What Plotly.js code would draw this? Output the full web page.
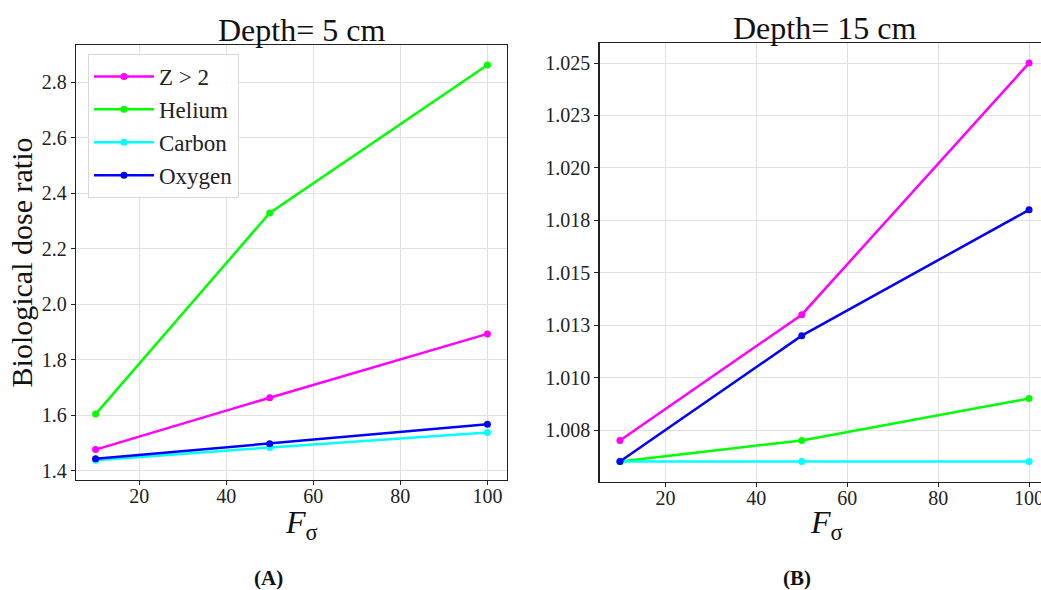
<!DOCTYPE html>
<html>
<head>
<meta charset="utf-8">
<script src="https://cdn.plot.ly/plotly-3.0.1.min.js"></script>
<style>
html, body { margin: 0; padding: 0; overflow: hidden; background: #fff; }
#chart { width: 1050px; height: 590px; }
</style>
</head>
<body>
<div id="chart"></div>
<script>
// ---- Data ----
const fSigma = [10, 50, 100];
const seriesNames = ["Z > 2", "Helium", "Carbon", "Oxygen"];
const seriesColors = ["#ff00ff", "#00ff00", "#00ffff", "#0000ff"];

// Panel A: Depth = 5 cm
const depth5_Z2 = [1.476, 1.663, 1.893];
const depth5_Helium = [1.604, 2.329, 2.862];
const depth5_Carbon = [1.438, 1.484, 1.538];
const depth5_Oxygen = [1.443, 1.497, 1.567];

// Panel B: Depth = 15 cm
const depth15_Z2 = [1.0070, 1.0130, 1.0250];
const depth15_Helium = [1.0060, 1.0070, 1.0090];
const depth15_Carbon = [1.0060, 1.0060, 1.0060];
const depth15_Oxygen = [1.0060, 1.0120, 1.0180];

const xTickVals = [20, 40, 60, 80, 100];
const yTickValsA = [1.4, 1.6, 1.8, 2.0, 2.2, 2.4, 2.6, 2.8];
const yTickTextA = ["1.4", "1.6", "1.8", "2.0", "2.2", "2.4", "2.6", "2.8"];
const yTickValsB = [1.0075, 1.0100, 1.0125, 1.0150, 1.0175, 1.0200, 1.0225, 1.0250];
const yTickTextB = ["1.008", "1.010", "1.013", "1.015", "1.018", "1.020", "1.023", "1.025"];

const panelTitles = ["Depth= 5 cm", "Depth= 15 cm"];
const panelLabels = ["<b>(A)</b>", "<b>(B)</b>"];
const xTitle = "<i>F</i><sub>σ</sub>";
const yTitle = "Biological dose ratio";

// ---- Build traces ----
const panelA = [depth5_Z2, depth5_Helium, depth5_Carbon, depth5_Oxygen];
const panelB = [depth15_Z2, depth15_Helium, depth15_Carbon, depth15_Oxygen];

const traces = [];
panelA.forEach((ys, i) => {
  traces.push({
    x: fSigma, y: ys, name: seriesNames[i], type: "scatter", mode: "lines+markers",
    line: {color: seriesColors[i], width: 2.5}, marker: {color: seriesColors[i], size: 7},
    xaxis: "x", yaxis: "y", showlegend: true
  });
});
panelB.forEach((ys, i) => {
  traces.push({
    x: fSigma, y: ys, name: seriesNames[i], type: "scatter", mode: "lines+markers",
    line: {color: seriesColors[i], width: 2.5}, marker: {color: seriesColors[i], size: 7},
    xaxis: "x2", yaxis: "y2", showlegend: false
  });
});

const W = 1050, H = 590;
const FONT = "Liberation Serif";
const axisCommon = {
  showline: true, mirror: true, linecolor: "#222", linewidth: 1.2,
  showgrid: true, gridcolor: "#e2e2e2", gridwidth: 1,
  ticks: "outside", ticklen: 4, tickcolor: "#222",
  zeroline: false, tickfont: {family: FONT, size: 20, color: "#222"}
};

const layout = {
  width: W, height: H,
  margin: {l: 0, r: 0, t: 0, b: 0},
  paper_bgcolor: "#fff", plot_bgcolor: "#fff",
  font: {family: FONT, color: "#111"},
  xaxis: Object.assign({}, axisCommon, {
    domain: [76 / W, 507 / W], range: [5.5, 104.5], tickvals: xTickVals, anchor: "y",
    ticklabelstandoff: -6
  }),
  yaxis: Object.assign({}, axisCommon, {
    domain: [1 - 480 / H, 1 - 45 / H], range: [1.3665, 2.934],
    tickvals: yTickValsA, ticktext: yTickTextA, anchor: "x",
    title: {text: yTitle, font: {family: FONT, size: 30}, standoff: 0}
  }),
  xaxis2: Object.assign({}, axisCommon, {
    domain: [599.5 / W, 1049.5 / W], range: [5.5, 104.5], tickvals: xTickVals, anchor: "y2",
    ticklabelstandoff: -6
  }),
  yaxis2: Object.assign({}, axisCommon, {
    domain: [1 - 481.7 / H, 1 - 42.7 / H], range: [1.005035, 1.02597],
    tickvals: yTickValsB, ticktext: yTickTextB, anchor: "x2"
  }),
  legend: {
    x: 88 / W, y: 1 - 54 / H, xanchor: "left", yanchor: "top",
    bgcolor: "rgba(255,255,255,0.9)", bordercolor: "#d8d8d8", borderwidth: 1,
    font: {family: FONT, size: 23, color: "#222"}, itemwidth: 60
  },
  annotations: [
    {text: panelTitles[0], xref: "paper", yref: "paper", x: 301 / W, y: 1 - 30 / H,
     xanchor: "center", yanchor: "middle", showarrow: false, font: {family: FONT, size: 32, color: "#111"}},
    {text: panelTitles[1], xref: "paper", yref: "paper", x: 824 / W, y: 1 - 28 / H,
     xanchor: "center", yanchor: "middle", showarrow: false, font: {family: FONT, size: 32, color: "#111"}},
    {text: xTitle, xref: "paper", yref: "paper", x: 301 / W, y: 1 - 524 / H,
     xanchor: "center", yanchor: "middle", showarrow: false, font: {family: FONT, size: 32, color: "#111"}},
    {text: xTitle, xref: "paper", yref: "paper", x: 826 / W, y: 1 - 524 / H,
     xanchor: "center", yanchor: "middle", showarrow: false, font: {family: FONT, size: 32, color: "#111"}},
    {text: panelLabels[0], xref: "paper", yref: "paper", x: 268 / W, y: 1 - 578 / H,
     xanchor: "center", yanchor: "middle", showarrow: false, font: {family: FONT, size: 21, color: "#111"}},
    {text: panelLabels[1], xref: "paper", yref: "paper", x: 797 / W, y: 1 - 578 / H,
     xanchor: "center", yanchor: "middle", showarrow: false, font: {family: FONT, size: 21, color: "#111"}}
  ]
};

Plotly.newPlot("chart", traces, layout, {displayModeBar: false, staticPlot: true});
</script>
</body>
</html>
